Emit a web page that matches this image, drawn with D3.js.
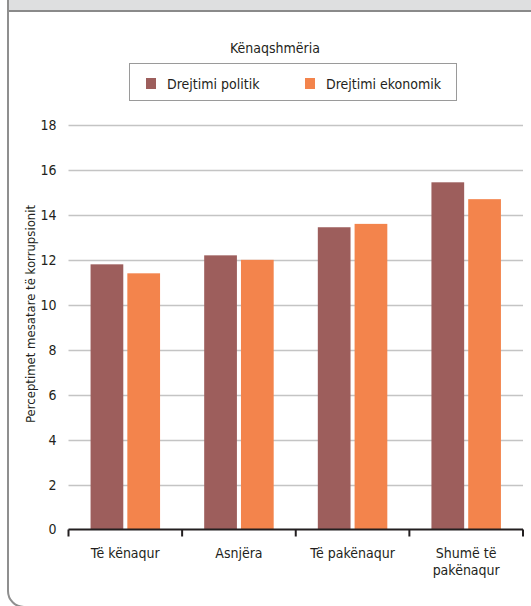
<!DOCTYPE html>
<html>
<head>
<meta charset="utf-8">
<script src="https://cdn.jsdelivr.net/npm/d3@7"></script>
<style>
  body { margin: 0; background: #fff; }
  svg { display: block; }
  text { font-family: "Liberation Sans Narrow", "DejaVu Sans", sans-serif; font-stretch: condensed; fill: #231f20; }
</style>
</head>
<body>
<div id="viz"></div>
<script>
const categories = [['Të kënaqur'], ['Asnjëra'], ['Të pakënaqur'], ['Shumë të', 'pakënaqur']];
const seriesNames = ['Drejtimi politik', 'Drejtimi ekonomik'];
const politik = [11.8, 12.2, 13.45, 15.45];
const ekonomik = [11.4, 12.0, 13.6, 14.7];
const yTicks = [0, 2, 4, 6, 8, 10, 12, 14, 16, 18];
const legendTitle = 'Kënaqshmëria';
const yTitle = 'Perceptimet mesatare të korrupsionit';

const colours = ['#9d5e5c', '#f3844c'];
const W = 531, H = 606;
const plot = { left: 68.5, right: 523, top: 125, bottom: 529.5 };

const svg = d3.select('#viz').append('svg')
    .attr('width', W)
    .attr('height', H);

// frame: grey header strip and rounded box edge
svg.append('rect')
    .attr('x', 8).attr('y', 0)
    .attr('width', W - 8).attr('height', 11)
    .style('fill', '#dedfe0');
svg.append('line')
    .attr('x1', 8).attr('x2', W).attr('y1', 11).attr('y2', 11)
    .style('stroke', '#8a8a8a').style('stroke-width', 2);
svg.append('path')
    .attr('d', 'M8,0 V591 A16,16 0 0 0 24,607 H' + W)
    .style('fill', 'none').style('stroke', '#8f8f8f').style('stroke-width', 2);

const catKeys = categories.map(c => c.join(' '));

const x0 = d3.scaleBand()
    .domain(catKeys)
    .range([plot.left, plot.right])
    .padding(0);

const x1 = d3.scaleBand()
    .domain(seriesNames)
    .range([0, x0.bandwidth()])
    .paddingInner(0.11)
    .paddingOuter(0.6);

const y = d3.scaleLinear()
    .domain([0, 18])
    .range([plot.bottom, plot.top]);

// gridlines
svg.append('g')
    .selectAll('line').data(yTicks.filter(d => d > 0))
    .enter().append('line')
        .attr('x1', plot.left).attr('x2', plot.right)
        .attr('y1', d => Math.round(y(d)) + 0.5).attr('y2', d => Math.round(y(d)) + 0.5)
        .style('stroke', '#c4c4c4').style('stroke-width', 1.6);

// y tick labels
const yAxis = d3.axisLeft(y).tickValues(yTicks).tickSize(0).tickPadding(12);
const yGuide = svg.append('g')
    .attr('transform', 'translate(' + plot.left + ',0)')
    .call(yAxis);
yGuide.select('.domain').remove();
yGuide.selectAll('text').style('font-size', '14px');

// bars
const rows = catKeys.map((k, i) => ({ key: k, values: [politik[i], ekonomik[i]] }));
svg.append('g')
    .selectAll('g').data(rows)
    .enter().append('g')
        .attr('transform', d => 'translate(' + x0(d.key) + ',0)')
    .selectAll('rect').data(d => d.values.map((v, j) => ({ name: seriesNames[j], value: v, j: j })))
    .enter().append('rect')
        .attr('x', d => x1(d.name))
        .attr('width', x1.bandwidth())
        .attr('y', d => y(d.value))
        .attr('height', d => y(0) - y(d.value))
        .style('fill', d => colours[d.j]);

// x axis with boundary ticks
const xGuide = svg.append('g');
xGuide.append('line')
    .attr('x1', plot.left).attr('x2', plot.right)
    .attr('y1', plot.bottom).attr('y2', plot.bottom)
    .style('stroke', '#231f20').style('stroke-width', 2);
const bounds = catKeys.map(k => x0(k)).concat([plot.right]);
xGuide.selectAll('line.tick').data(bounds)
    .enter().append('line').attr('class', 'tick')
        .attr('x1', d => d).attr('x2', d => d)
        .attr('y1', plot.bottom).attr('y2', plot.bottom + 7)
        .style('stroke', '#231f20').style('stroke-width', 2);
const xLabels = xGuide.selectAll('text').data(categories)
    .enter().append('text')
        .attr('x', (d, i) => x0(catKeys[i]) + x0.bandwidth() / 2)
        .attr('y', 558)
        .attr('text-anchor', 'middle')
        .style('font-size', '14px');
xLabels.selectAll('tspan').data(d => d)
    .enter().append('tspan')
        .attr('x', function() { return d3.select(this.parentNode).attr('x'); })
        .attr('dy', (d, i) => i === 0 ? 0 : 17)
        .text(d => d);

// y axis title
svg.append('text')
    .attr('transform', 'translate(35,314) rotate(-90)')
    .attr('text-anchor', 'middle')
    .style('font-size', '13px')
    .text(yTitle);

// legend
svg.append('text')
    .attr('x', 275).attr('y', 53)
    .attr('text-anchor', 'middle')
    .style('font-size', '14px')
    .text(legendTitle);
svg.append('rect')
    .attr('x', 129.5).attr('y', 63.5)
    .attr('width', 327).attr('height', 37)
    .style('fill', 'none').style('stroke', '#9a9a9a');
const legendX = [146, 305];
const legendItems = svg.append('g')
    .selectAll('g').data(seriesNames)
    .enter().append('g')
        .attr('transform', (d, i) => 'translate(' + legendX[i] + ',78)');
legendItems.append('rect')
    .attr('width', 10).attr('height', 11)
    .style('fill', (d, i) => colours[i]);
legendItems.append('text')
    .attr('x', 21).attr('y', 11)
    .style('font-size', '14px')
    .text(d => d);
</script>
</body>
</html>
